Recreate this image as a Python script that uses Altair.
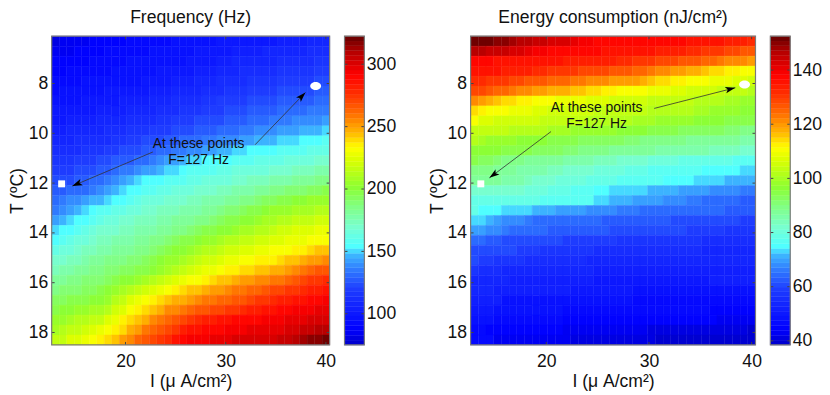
import altair as alt
import pandas as pd

FONT = "Liberation Sans"

I_CENTRES = [13.0, 13.75, 14.5, 15.25, 16.0, 16.75, 17.5, 18.25, 19.0, 19.75, 20.5, 21.25, 22.0,
             22.75, 23.5, 24.25, 25.0, 25.75, 26.5, 27.25, 28.0, 28.75, 29.5, 30.25, 31.0, 31.75,
             32.5, 33.25, 34.0, 34.75, 35.5, 36.25, 37.0, 37.75, 38.5, 39.25, 40.0]
T_CENTRES = [6.3, 6.7, 7.1, 7.5, 7.9, 8.3, 8.7, 9.1, 9.5, 9.9, 10.3, 10.7, 11.1, 11.5, 11.9, 12.3,
             12.7, 13.1, 13.5, 13.9, 14.3, 14.7, 15.1, 15.5, 15.9, 16.3, 16.7, 17.1, 17.5, 17.9, 18.3]

FREQ = [
[82,83,84,85,86,87,88,89,89,90,91,91,92,93,93,94,95,95,96,97,97,98,99,99,100,100,101,101,102,102,103,104,104,105,106,106,107],
[84,85,86,87,88,89,90,91,91,92,93,93,94,95,95,96,97,97,98,99,100,101,101,102,103,104,104,105,106,106,107,108,108,109,110,110,111],
[87,88,89,90,90,91,92,93,93,94,95,95,96,96,97,97,98,98,99,100,101,102,104,105,106,107,107,108,109,109,110,111,112,113,113,114,115],
[89,90,91,92,92,93,94,94,95,95,96,96,97,98,99,99,100,101,102,103,104,105,107,108,109,110,111,112,112,113,114,115,116,117,117,118,119],
[92,93,93,94,95,95,96,96,97,97,98,98,99,100,101,102,103,104,105,106,107,109,110,111,112,113,114,115,116,117,118,119,120,120,121,122,123],
[94,95,95,96,97,97,98,99,99,100,101,101,102,103,104,105,106,107,108,109,111,112,113,115,116,117,118,119,120,121,122,123,124,124,125,126,127],
[96,97,97,98,99,99,100,101,102,103,103,104,105,106,107,108,110,111,112,113,115,116,118,119,120,121,122,123,124,125,126,127,128,128,129,130,131],
[99,100,100,101,102,102,103,104,104,105,106,107,108,109,111,112,113,115,116,117,119,120,121,123,124,125,126,127,128,129,130,131,132,133,134,135,136],
[101,102,103,104,104,105,106,107,108,109,110,111,112,113,115,116,118,119,121,122,123,124,125,127,128,129,130,131,133,134,135,136,137,138,139,140,141],
[104,105,106,107,107,108,109,110,111,112,114,115,117,118,119,121,122,123,125,126,127,129,130,131,133,134,136,137,138,140,141,142,144,145,147,148,150],
[107,108,109,110,110,111,112,113,115,117,118,120,122,123,125,127,128,130,132,133,134,136,137,138,140,141,143,145,146,148,150,151,152,153,155,156,157],
[110,111,112,113,114,115,117,118,120,122,123,125,127,129,130,132,134,135,137,140,142,144,146,148,151,152,153,154,155,156,157,158,159,160,161,162,163],
[114,115,116,118,119,120,122,124,126,127,129,131,133,135,138,141,144,147,150,151,153,154,155,156,158,159,160,161,161,162,163,164,165,166,167,168,169],
[118,119,121,122,124,125,127,129,131,134,136,138,141,144,147,150,152,155,157,158,159,160,161,162,164,165,166,167,167,168,169,171,172,174,175,177,178],
[122,123,125,127,128,130,132,135,138,142,146,150,154,155,156,157,159,160,162,163,164,165,166,167,169,170,172,173,175,176,178,179,181,182,183,185,186],
[127,129,130,132,133,135,137,142,146,150,153,156,159,160,161,163,164,165,167,168,170,171,173,174,176,178,179,181,183,184,186,188,189,191,193,194,196],
[131,134,137,140,143,145,148,151,154,156,159,161,164,165,167,168,169,171,172,174,176,178,179,181,183,185,187,189,192,194,196,198,199,201,203,204,206],
[135,139,143,146,150,153,157,159,161,163,165,167,169,170,172,173,174,176,177,179,181,183,185,188,190,193,195,198,200,203,205,206,208,209,210,212,213],
[143,146,150,153,156,160,163,165,167,168,170,172,173,175,177,178,180,181,183,185,187,190,192,195,197,200,202,205,207,210,212,213,215,216,217,219,220],
[150,153,156,160,163,166,169,170,171,173,174,176,177,179,181,183,185,187,190,192,195,197,200,202,205,207,210,212,214,217,219,220,222,223,224,226,227],
[156,159,162,165,167,170,173,175,176,178,179,181,182,185,187,190,192,195,197,200,203,205,208,211,213,215,217,219,221,223,225,226,228,229,230,232,233],
[162,165,167,170,173,175,178,179,181,182,183,185,186,189,193,196,199,202,205,208,211,213,216,219,221,223,225,226,228,230,231,233,235,237,240,242,244],
[169,171,173,175,178,180,182,184,185,187,189,190,192,196,199,203,206,210,213,216,219,221,224,227,229,231,233,235,236,237,239,242,245,247,250,252,255],
[175,177,179,181,182,184,186,188,190,192,194,196,198,202,206,210,213,217,221,224,227,229,232,235,237,239,241,243,245,247,249,252,255,258,262,265,268],
[181,183,184,186,188,189,191,194,196,199,202,204,207,211,215,219,222,226,230,233,236,239,242,245,248,250,252,254,256,258,260,263,266,270,273,276,279],
[186,188,190,191,193,194,196,200,204,208,212,216,220,224,227,231,235,238,242,245,247,250,252,255,257,259,262,264,266,269,271,273,276,278,281,283,286],
[192,194,195,197,198,200,201,206,212,217,222,228,233,236,239,242,246,249,252,254,257,259,261,264,266,268,271,273,275,278,280,282,284,286,288,290,292],
[198,200,202,203,205,207,209,214,220,225,230,236,241,245,249,253,256,260,264,266,268,270,272,274,276,278,280,282,285,287,289,290,292,293,294,296,297],
[204,206,209,211,213,216,218,223,228,234,239,244,249,254,258,263,267,272,276,278,280,282,284,286,288,289,290,291,293,294,295,296,298,299,300,302,303],
[209,212,215,218,220,223,226,231,236,241,247,252,257,262,266,271,275,280,284,286,288,289,291,292,294,295,296,296,297,298,299,301,303,305,306,308,310],
[215,218,222,225,228,232,235,240,245,250,256,261,266,270,275,279,284,288,293,294,295,296,297,299,300,301,301,302,303,303,304,307,309,312,315,317,320],
]

ENERGY = [
[152,152,151,149,149,148,146,146,145,144,143,142,142,141,140,139,138,138,138,138,138,138,137,137,137,137,137,137,136,136,136,135,135,134,134,133,132],
[146,146,145,145,144,143,142,141,139,139,138,138,138,137,137,137,137,136,136,136,136,135,135,135,134,134,133,133,132,132,131,131,130,129,128,127,126],
[137,137,137,136,136,136,136,136,135,135,135,135,134,134,134,134,133,133,133,132,132,131,131,130,129,129,128,127,127,126,125,124,123,122,121,121,120],
[135,135,135,135,134,134,133,133,132,132,131,131,130,130,129,129,128,128,127,127,126,125,124,123,122,121,120,119,118,117,116,115,114,113,112,111,111],
[132,132,131,131,130,129,128,127,126,126,125,124,124,123,123,122,121,121,120,120,119,119,118,116,115,114,113,112,111,110,110,109,108,108,107,107,106],
[128,128,127,125,124,123,122,121,120,119,118,118,117,116,116,115,114,113,112,111,111,110,110,109,109,108,107,107,106,106,105,105,104,104,103,103,102],
[121,120,118,116,115,114,113,112,111,111,110,109,109,108,108,107,107,107,106,106,106,105,105,104,104,104,104,103,103,102,102,101,101,100,100,99,98],
[114,112,111,110,110,109,108,108,107,107,106,106,106,105,105,105,104,104,104,103,103,103,103,102,102,102,102,101,101,100,100,99,99,98,98,97,96],
[110,107,107,106,106,106,105,105,105,104,104,104,103,103,103,102,102,102,101,101,101,100,100,100,99,99,98,98,98,97,97,96,96,95,95,94,94],
[104,104,103,103,103,102,102,102,101,101,100,100,100,99,99,99,98,98,98,97,97,96,96,95,95,94,94,93,93,93,92,92,92,91,91,90,90],
[102,100,99,99,98,98,97,97,96,96,95,95,94,94,93,93,93,92,92,92,91,91,90,90,90,89,89,89,88,88,88,88,87,87,87,86,86],
[97,97,96,96,95,95,94,94,93,93,92,92,91,91,90,90,89,89,88,88,88,87,87,87,86,86,86,85,85,85,85,84,84,84,84,83,83],
[94,93,92,91,90,89,89,88,88,87,87,87,86,86,85,85,84,84,84,83,83,82,82,81,81,80,80,79,79,79,78,78,78,78,77,77,77],
[90,89,89,88,88,87,86,86,85,85,84,84,83,83,82,82,81,81,80,80,79,79,78,77,77,76,76,76,76,76,75,75,75,75,75,74,74],
[88,88,87,87,86,85,85,84,83,83,82,81,81,80,80,79,78,78,78,77,77,77,76,76,76,75,75,75,75,74,74,73,73,72,72,71,71],
[83,83,83,83,82,82,82,81,81,80,79,79,78,77,77,76,75,75,74,74,74,73,73,72,72,71,71,70,70,69,69,68,68,67,67,66,66],
[79,79,79,79,78,78,78,78,78,77,77,77,77,76,76,76,73,73,72,72,71,70,70,69,69,68,67,67,66,66,65,65,65,64,64,63,63],
[78,75,75,75,74,74,73,73,72,72,71,70,70,69,69,68,68,67,67,66,66,66,65,65,65,65,65,65,64,64,64,64,64,63,63,63,63],
[73,73,72,69,68,68,67,66,65,65,65,65,64,64,64,64,64,63,63,63,63,63,62,62,62,62,61,61,61,61,61,60,60,60,60,59,59],
[69,69,68,67,66,65,65,64,64,64,63,63,63,63,62,62,62,62,61,61,61,61,60,60,60,60,60,60,59,59,59,59,59,58,58,58,57],
[65,65,62,62,61,61,61,60,60,60,60,60,59,59,59,59,59,59,59,58,58,58,58,58,58,57,57,57,57,57,56,56,56,56,55,55,55],
[61,61,61,60,60,60,59,59,59,58,58,57,57,57,57,57,56,56,56,56,56,56,55,55,55,55,55,55,55,55,54,54,54,54,54,54,54],
[60,59,59,58,57,57,57,56,56,55,55,55,55,55,55,54,54,54,54,54,54,54,54,54,54,54,54,54,53,53,53,53,53,53,53,53,53],
[58,55,55,55,54,54,54,54,53,53,53,53,53,53,53,53,52,52,52,52,52,52,52,52,52,52,52,52,52,51,51,51,51,51,51,51,51],
[53,53,53,53,53,52,52,52,51,51,51,51,51,51,51,51,50,50,50,50,50,50,50,50,50,50,50,50,50,50,50,52,52,52,52,52,52],
[53,53,53,52,51,51,51,51,51,51,51,51,51,50,50,50,50,50,50,50,50,49,49,49,49,49,49,49,49,49,49,49,49,49,49,49,49],
[52,52,52,51,49,49,49,49,49,49,49,49,48,48,48,48,48,48,48,48,48,47,47,47,47,47,47,47,47,47,47,46,46,46,46,46,46],
[50,50,50,48,48,48,48,48,48,48,48,48,47,47,47,47,47,47,47,47,47,46,46,46,46,46,46,46,46,46,46,44,44,44,44,44,44],
[49,49,49,46,46,46,46,46,46,46,46,46,45,45,45,45,45,45,45,45,45,45,44,44,44,44,44,44,44,44,44,44,43,43,43,43,43],
[47,47,45,45,45,45,45,45,45,45,45,45,43,43,43,43,43,43,43,43,43,43,43,42,42,42,42,42,42,42,42,42,42,42,41,41,40],
[46,46,46,43,43,43,43,43,43,43,43,43,43,42,42,42,42,42,42,42,42,42,42,42,40,40,40,40,40,40,40,40,40,40,40,39,39],
]

X_TICKS = [20, 30, 40]
Y_TICKS = [8, 10, 12, 14, 16, 18]
FREQ_TICKS = [100, 150, 200, 250, 300]
ENERGY_TICKS = [40, 60, 80, 100, 120, 140]
FREQ_RANGE = [75, 322.5]
ENERGY_RANGE = [38.5, 152.5]
I_RANGE = [12.625, 40.375]
T_RANGE = [18.5, 6.1]

NOTE_LINES = ["At these points", "F=127 Hz"]

# Frequency panel annotations
FREQ_NOTE = dict(I=[27.29, 27.29], T=[10.6, 11.24])
FREQ_ARROWS = dict(I0=[22.73, 32.93], T0=[10.75, 10.46], I1=[14.68, 37.96], T1=[12.12, 8.36], ang=[247, 44])
FREQ_SQUARE = dict(I=[13.62], T=[12.03])
FREQ_ELLIPSE = dict(I=[38.98], T=[8.1])
# Energy panel annotations
ENERGY_NOTE = dict(I=[24.9, 24.9], T=[9.13, 9.77])
ENERGY_ARROWS = dict(I0=[30.51, 20.46], T0=[9.0, 9.93], I1=[38.41, 14.46], T1=[8.17, 11.79], ang=[76, 233])
ENERGY_SQUARE = dict(I=[13.62], T=[12.03])
ENERGY_ELLIPSE = dict(I=[39.31], T=[8.04])

# colormap anchors (fraction, r, g, b) -> 64 steps
CMAP = [(0, 0, 0, 200), (.05, 0, 0, 255), (.18, 30, 60, 255), (.25, 50, 130, 255), (.29, 60, 180, 255),
        (.32, 80, 255, 255), (.38, 120, 255, 210), (.45, 130, 255, 130), (.51, 140, 255, 50),
        (.60, 220, 255, 0), (.64, 255, 255, 0), (.69, 255, 180, 0), (.75, 255, 110, 0),
        (.81, 255, 50, 0), (.875, 255, 0, 0), (.95, 180, 0, 0), (1, 100, 0, 0)]


def cmap_colour(f):
    for a, b in zip(CMAP, CMAP[1:]):
        if f <= b[0]:
            t = (f - a[0]) / (b[0] - a[0])
            return "#%02x%02x%02x" % tuple(round(a[k] + t * (b[k] - a[k])) for k in (1, 2, 3))
    return "#640000"


PALETTE = [cmap_colour((i + 0.5) / 64) for i in range(64)]
TICK = "#444444"
FRAME = "#7a7a7a"
LABEL = dict(labelFont=FONT, labelFontSize=17.7, labelColor="#111111", titleFont=FONT, titleFontSize=17.7,
             titleFontWeight="normal", titleColor="#111111")
ELLIPSE = "M-1,0A1,0.73 0 1 1 1,0A1,0.73 0 1 1 -1,0Z"
STEALTH = "M0,0L0.55,1.7L0,1.3L-0.55,1.7Z"


def frame_layer(w, h):
    return alt.Chart(pd.DataFrame({"a": [0]})).mark_rect(fillOpacity=0, stroke=FRAME, strokeWidth=1.2).encode(
        x=alt.value(0), x2=alt.value(w), y=alt.value(0), y2=alt.value(h))


def panel(z, zrange, w, h, title, note, arrows, square, ellipse, ytitle_x):
    rows = [dict(I0=i - 0.375, I1=i + 0.375, T0=t - 0.2, T1=t + 0.2, z=v)
            for t, row in zip(T_CENTRES, z) for i, v in zip(I_CENTRES, row)]
    xs = alt.Scale(domain=I_RANGE, nice=False, zero=False)
    ys = alt.Scale(domain=T_RANGE, nice=False, zero=False)
    cs = alt.Scale(type="quantize", domain=zrange, range=PALETTE, nice=False)
    xaxis = alt.Axis(values=X_TICKS, ticks=False, domain=False, grid=False, labelPadding=8,
                     title="I (μ A/cm²)", titleX=w / 2, titleY=42, titleAlign="center",
                     titleBaseline="alphabetic", **LABEL)
    yaxis = alt.Axis(values=Y_TICKS, ticks=False, domain=False, grid=False, labelPadding=4,
                     title="T (ºC)", titleX=ytitle_x, titleY=h / 2, titleAlign="center",
                     titleBaseline="alphabetic", titleAngle=270, **LABEL)
    X = lambda f: alt.X(f, type="quantitative", scale=xs, axis=xaxis)
    Y = lambda f: alt.Y(f, type="quantitative", scale=ys, axis=yaxis)

    heat = alt.Chart(pd.DataFrame(rows)).mark_rect(strokeWidth=0.4).encode(
        x=X("I0"),
        x2="I1:Q",
        y=Y("T0"),
        y2="T1:Q",
        color=alt.Color("z:Q", scale=cs, legend=None),
        stroke=alt.Stroke("z:Q", scale=cs, legend=None),
    )
    xt = pd.DataFrame({"v": X_TICKS})
    yt = pd.DataFrame({"v": Y_TICKS})
    tick = dict(color=TICK, strokeWidth=1)
    ticks = [
        alt.Chart(xt).mark_rule(**tick).encode(x=X("v"), y=alt.value(h - 3), y2=alt.value(h)),
        alt.Chart(xt).mark_rule(**tick).encode(x=X("v"), y=alt.value(0), y2=alt.value(3)),
        alt.Chart(yt).mark_rule(**tick).encode(y=Y("v"), x=alt.value(0), x2=alt.value(3)),
        alt.Chart(yt).mark_rule(**tick).encode(y=Y("v"), x=alt.value(w - 3), x2=alt.value(w)),
    ]
    sq = alt.Chart(pd.DataFrame(square)).mark_point(shape="square", filled=True, size=49, color="white", opacity=1).encode(
        x=X("I"), y=Y("T"))
    el = alt.Chart(pd.DataFrame(ellipse)).mark_point(shape=ELLIPSE, filled=True, size=121, color="white", opacity=1).encode(
        x=X("I"), y=Y("T"))
    adf = pd.DataFrame(arrows)
    lines = alt.Chart(adf).mark_rule(color="#333333", strokeWidth=0.8).encode(
        x=X("I0"), x2="I1:Q", y=Y("T0"), y2="T1:Q")
    heads = alt.Chart(adf).mark_point(shape=STEALTH, filled=True, size=144, color="black", opacity=1).encode(
        x=X("I1"), y=Y("T1"), angle=alt.Angle("ang:Q", scale=None))
    ndf = pd.DataFrame({**note, "label": NOTE_LINES})
    text = alt.Chart(ndf).mark_text(font=FONT, fontSize=14, color="#111111", align="center", baseline="alphabetic").encode(
        x=X("I"), y=Y("T"), text="label:N")
    head = alt.Chart(pd.DataFrame({"label": [title]})).mark_text(
        font=FONT, fontSize=17.7, color="#111111", align="center", baseline="alphabetic").encode(
        x=alt.value(w / 2), y=alt.value(-13), text="label:N")
    return alt.layer(heat, *ticks, frame_layer(w, h), sq, el, lines, heads, text, head).properties(width=w, height=h)


def colourbar(zrange, values, w, h):
    step = (zrange[1] - zrange[0]) / 64
    lo = [zrange[0] + i * step for i in range(64)]
    df = pd.DataFrame({"lo": lo, "hi": [v + step for v in lo], "mid": [v + step / 2 for v in lo]})
    ys = alt.Scale(domain=zrange, nice=False, zero=False)
    cs = alt.Scale(type="quantize", domain=zrange, range=PALETTE, nice=False)
    yaxis = alt.Axis(orient="right", values=values, ticks=False, domain=False, grid=False,
                     labelPadding=2, title=None, **LABEL)
    bar = alt.Chart(df).mark_rect(strokeWidth=0.4).encode(
        x=alt.value(0), x2=alt.value(w),
        y=alt.Y("lo:Q", scale=ys, axis=yaxis),
        y2="hi:Q",
        color=alt.Color("mid:Q", scale=cs, legend=None),
        stroke=alt.Stroke("mid:Q", scale=cs, legend=None),
    )
    tk = pd.DataFrame({"v": values})
    Y = alt.Y("v:Q", scale=ys, axis=yaxis)
    t1 = alt.Chart(tk).mark_rule(color=TICK, strokeWidth=1).encode(y=Y, x=alt.value(0), x2=alt.value(3))
    t2 = alt.Chart(tk).mark_rule(color=TICK, strokeWidth=1).encode(y=Y, x=alt.value(w - 3), x2=alt.value(w))
    return alt.layer(bar, t1, t2, frame_layer(w, h)).properties(width=w, height=h)


H = 311
spacer = alt.Chart(pd.DataFrame({"a": [0]})).mark_rect(opacity=0).encode(x=alt.value(0)).properties(width=77, height=H)

chart = alt.hconcat(
    panel(FREQ, FREQ_RANGE, 280, H, "Frequency (Hz)", FREQ_NOTE, FREQ_ARROWS, FREQ_SQUARE, FREQ_ELLIPSE, -29),
    colourbar(FREQ_RANGE, FREQ_TICKS, 20, H),
    spacer,
    panel(ENERGY, ENERGY_RANGE, 287, H, "Energy consumption (nJ/cm²)", ENERGY_NOTE, ENERGY_ARROWS, ENERGY_SQUARE,
          ENERGY_ELLIPSE, -28),
    colourbar(ENERGY_RANGE, ENERGY_TICKS, 20, H),
    spacing=15, bounds="flush",
).resolve_scale(color="independent", stroke="independent", x="independent", y="independent").properties(
    padding={"left": 1, "top": 0, "right": 0, "bottom": 0}, background="white"
).configure_view(strokeWidth=0)

chart.save("out.html", embed_options={"renderer": "svg", "actions": False})
